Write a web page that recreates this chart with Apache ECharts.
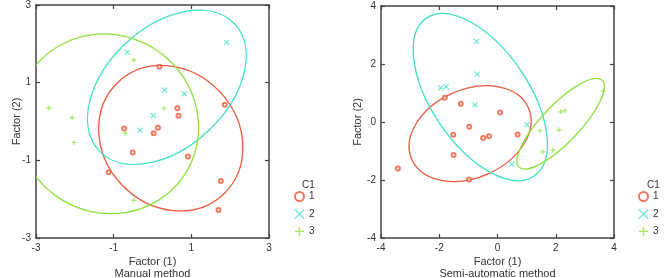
<!DOCTYPE html>
<html>
<head>
<meta charset="utf-8">
<script src="https://cdn.jsdelivr.net/npm/echarts@6/dist/echarts.min.js"></script>
<style>
  html, body { margin: 0; padding: 0; background: #fff; }
  #chart { width: 666px; height: 278px; }
</style>
</head>
<body>
<div id="chart"></div>
<script>
// group names (C1)
var groupNames = ['1', '2', '3']

// manual method: [factor1, factor2]
var manualC1 = [[0.18, 1.41], [0.64, 0.34], [0.67, 0.15], [1.86, 0.43], [-0.73, -0.18], [0.14, -0.16],
  [0.03, -0.30], [-0.51, -0.80], [0.91, -0.90], [-1.13, -1.31], [1.76, -1.53], [1.70, -2.28]]
var manualC2 = [[-0.65, 1.78], [1.91, 2.04], [0.31, 0.81], [0.82, 0.71], [0.02, 0.15], [-0.32, -0.22]]
var manualC3 = [[-0.48, 1.58], [-2.67, 0.35], [-2.07, 0.10], [0.30, 0.34], [-0.70, -0.30], [-2.02, -0.54], [-0.48, -2.03]]

// semi-automatic method
var semiC1 = [[-3.42, -1.60], [-1.81, 0.84], [-1.26, 0.63], [-0.97, -0.16], [-1.52, -0.44], [-1.51, -1.14],
  [-0.49, -0.55], [-0.29, -0.49], [0.09, 0.33], [0.69, -0.43], [-0.98, -1.98]]
var semiC2 = [[-0.72, 2.78], [-0.70, 1.65], [-1.95, 1.18], [-1.76, 1.22], [-0.77, 0.59], [1.01, -0.09], [0.49, -1.45]]
var semiC3 = [[1.46, -0.30], [1.55, -1.03], [1.90, -0.97], [2.11, -0.27], [2.17, 0.35], [2.31, 0.39], [3.63, 1.07]]

// ellipses: [centerX, centerY, semiMajor, semiMinor, angle(deg)]
var manualEllipseC1 = [0.47, -0.43, 1.98, 1.74, -47]
var manualEllipseC2 = [0.37, 0.88, 2.39, 1.55, 43]
var manualEllipseC3 = [-1.16, -0.06, 2.38, 2.28, -35]
var semiEllipseC1 = [-0.94, -0.40, 2.19, 1.52, 24]
var semiEllipseC2 = [-0.59, 0.86, 3.28, 1.67, -55.7]
var semiEllipseC3 = [2.17, -0.06, 2.06, 0.65, 46.3]

// ticks
var manualTicks = [-3, -1, 1, 3]
var semiTicks = [-4, -2, 0, 2, 4]

var colors = ['#eb5a3c', '#3fe0c3', '#8ce23c']
var symbols = ['emptyCircle', 'path://M0,0L10,10M10,0L0,10', 'path://M5,0L5,10M0,5L10,5']
var textColor = '#333'
var fontFamily = '"Liberation Sans", Arial, sans-serif'

var myChart = echarts.init(document.getElementById('chart'))

function makeAxis (gridIndex, pos, ticks, range, name, showLabel, gap) {
  return {
    type: 'value',
    gridIndex: gridIndex,
    position: pos,
    min: range[0],
    max: range[1],
    name: name,
    nameLocation: 'middle',
    nameGap: gap,
    nameMoveOverlap: false,
    nameTextStyle: {color: textColor, fontSize: 11, fontFamily: fontFamily, lineHeight: 12},
    axisLine: {show: true, onZero: false, lineStyle: {color: '#444', width: 1.5}},
    axisTick: {show: true, inside: true, length: 4, customValues: ticks, lineStyle: {color: '#444', width: 1.2}},
    axisLabel: {show: showLabel, customValues: ticks, color: textColor, fontSize: 10, fontFamily: fontFamily, margin: 5},
    splitLine: {show: false}
  }
}

function pointSeries (name, data, idx, xi, yi) {
  return {
    name: name,
    type: 'scatter',
    xAxisIndex: xi,
    yAxisIndex: yi,
    symbol: symbols[idx],
    symbolSize: idx === 0 ? 4 : 5,
    itemStyle: {color: colors[idx], borderColor: colors[idx], borderWidth: 1.1},
    data: data,
    z: 3
  }
}

function ellipseSeries (ell, idx, xi, yi) {
  return {
    type: 'custom',
    xAxisIndex: xi,
    yAxisIndex: yi,
    silent: true,
    data: [ell],
    renderItem: function (params, api) {
      var c = api.coord([api.value(0), api.value(1)])
      var s = api.size([api.value(2), api.value(3)])
      var box = params.coordSys
      return {
        type: 'group',
        clipPath: {type: 'rect', shape: {x: box.x, y: box.y, width: box.width, height: box.height}},
        children: [{
          type: 'ellipse',
          x: c[0],
          y: c[1],
          rotation: api.value(4) * Math.PI / 180,
          shape: {cx: 0, cy: 0, rx: s[0], ry: s[1]},
          style: {fill: 'none', stroke: colors[idx], lineWidth: 1.3}
        }]
      }
    },
    z: 2
  }
}

var legendBase = {
  data: groupNames,
  orient: 'vertical',
  itemWidth: 9,
  itemHeight: 9,
  itemGap: 7,
  padding: 0,
  selectedMode: false,
  textStyle: {color: textColor, fontSize: 10, fontFamily: fontFamily},
  itemStyle: {borderWidth: 1.3}
}

var option = {
  animation: false,
  title: [
    {text: 'C1', left: 302, top: 180, padding: 0, textStyle: {color: textColor, fontSize: 10, fontWeight: 'normal', fontFamily: fontFamily}},
    {text: 'C1', left: 647, top: 180, padding: 0, textStyle: {color: textColor, fontSize: 10, fontWeight: 'normal', fontFamily: fontFamily}}
  ],
  legend: [
    Object.assign({left: 294, top: 191}, legendBase),
    Object.assign({left: 638, top: 191}, legendBase)
  ],
  grid: [
    {left: 36, top: 5, width: 233, height: 233, outerBoundsMode: 'none'},
    {left: 381, top: 6, width: 233, height: 232, outerBoundsMode: 'none'}
  ],
  xAxis: [
    makeAxis(0, 'bottom', manualTicks, [-3, 3], 'Factor (1)\nManual method', true, 18),
    makeAxis(0, 'top', manualTicks, [-3, 3], '', false, 0),
    makeAxis(1, 'bottom', semiTicks, [-4, 4], 'Factor (1)\nSemi-automatic method', true, 18),
    makeAxis(1, 'top', semiTicks, [-4, 4], '', false, 0)
  ],
  yAxis: [
    makeAxis(0, 'left', manualTicks, [-3, 3], 'Factor (2)', true, 13),
    makeAxis(0, 'right', manualTicks, [-3, 3], '', false, 0),
    makeAxis(1, 'left', semiTicks, [-4, 4], 'Factor (2)', true, 17),
    makeAxis(1, 'right', semiTicks, [-4, 4], '', false, 0)
  ],
  series: [
    ellipseSeries(manualEllipseC1, 0, 0, 0),
    ellipseSeries(manualEllipseC2, 1, 0, 0),
    ellipseSeries(manualEllipseC3, 2, 0, 0),
    ellipseSeries(semiEllipseC1, 0, 2, 2),
    ellipseSeries(semiEllipseC2, 1, 2, 2),
    ellipseSeries(semiEllipseC3, 2, 2, 2),
    pointSeries(groupNames[0], manualC1, 0, 0, 0),
    pointSeries(groupNames[1], manualC2, 1, 0, 0),
    pointSeries(groupNames[2], manualC3, 2, 0, 0),
    pointSeries(groupNames[0], semiC1, 0, 2, 2),
    pointSeries(groupNames[1], semiC2, 1, 2, 2),
    pointSeries(groupNames[2], semiC3, 2, 2, 2)
  ]
}
myChart.setOption(option)
</script>
</body>
</html>
